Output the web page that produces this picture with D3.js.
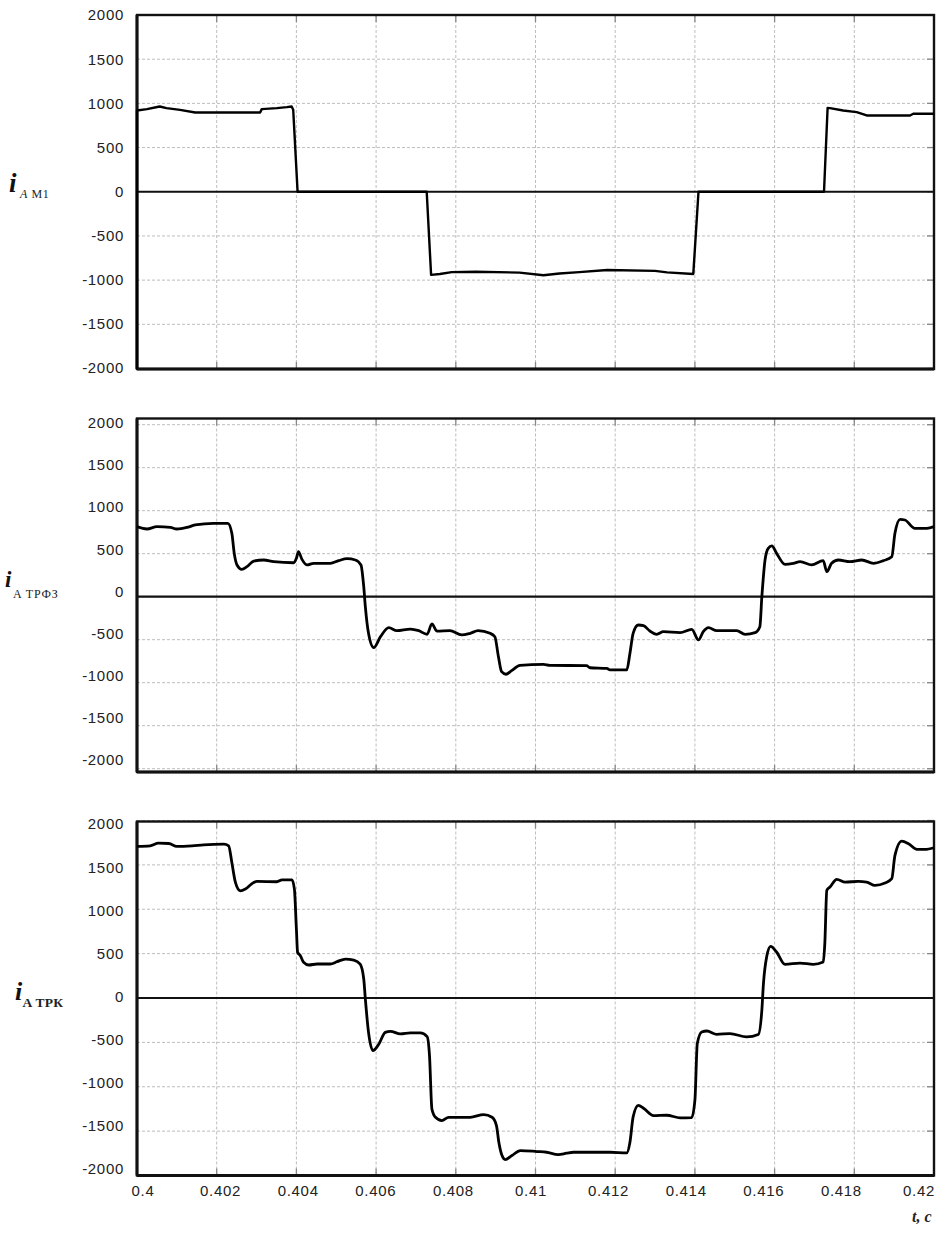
<!DOCTYPE html>
<html><head><meta charset="utf-8">
<script src="https://cdn.jsdelivr.net/npm/d3@7/dist/d3.min.js"></script>
<style>body{margin:0;background:#fff}svg{display:block}</style>
</head><body>
<svg id="c" width="936" height="1234"></svg>
<script>
// ---- data ----
const xTicks = [0.4,0.402,0.404,0.406,0.408,0.41,0.412,0.414,0.416,0.418,0.42];
const xTickLabels = ["0.4","0.402","0.404","0.406","0.408","0.41","0.412","0.414","0.416","0.418","0.42"];
const yTicks = [2000,1500,1000,500,0,-500,-1000,-1500,-2000];
const yTickLabels = ["2000","1500","1000","500","0","-500","-1000","-1500","-2000"];

// i_A M1
const m1T = [0.4,0.4,0.40025,0.40057,0.40074,0.40108,0.40146,0.40309,0.40313,0.40351,0.40376,0.40388,0.40392,0.40403,0.40727,0.40738,0.40760,0.40790,0.40850,0.40960,0.41020,0.41060,0.41110,0.41180,0.41300,0.41330,0.41396,0.41409,0.41724,0.41733,0.41739,0.41772,0.41806,0.41831,0.41940,0.41948,0.42];
const m1V = [-2000,920,935,965,946,927,897,897,935,946,958,965,927,0,0,-940,-930,-910,-905,-915,-945,-925,-910,-885,-895,-912,-930,0,0,947,946,920,901,863,863,882,882];

// i_A ТРФЗ
const trfT = [0.40000,0.40025,0.40050,0.40084,0.40100,0.40125,0.40146,0.40192,0.40228,0.40238,0.40244,0.40251,0.40263,0.40276,0.40293,0.40318,0.40343,0.40393,0.40400,0.40405,0.40414,0.40427,0.40443,0.40485,0.40506,0.40527,0.40548,0.40562,0.40569,0.40573,0.40581,0.40594,0.40611,0.40632,0.40652,0.40686,0.40707,0.40728,0.40740,0.40753,0.40785,0.40815,0.40836,0.40856,0.40886,0.40898,0.40907,0.40915,0.40926,0.40940,0.40961,0.41020,0.41036,0.41128,0.41137,0.41179,0.41187,0.41229,0.41237,0.41245,0.41258,0.41271,0.41287,0.41304,0.41321,0.41363,0.41392,0.41409,0.41421,0.41434,0.41455,0.41505,0.41526,0.41551,0.41563,0.41568,0.41576,0.41584,0.41593,0.41605,0.41626,0.41647,0.41664,0.41693,0.41722,0.41731,0.41743,0.41760,0.41789,0.41819,0.41848,0.41873,0.41894,0.41902,0.41915,0.41927,0.41952,0.41982,0.42000];
const trfV = [814,787,814,805,787,805,834,853,853,737,504,369,318,349,415,427,407,395,446,523,434,369,388,388,419,442,427,369,116,-116,-426,-593,-465,-360,-395,-376,-395,-437,-317,-400,-395,-445,-426,-395,-426,-465,-698,-872,-902,-860,-798,-786,-798,-802,-826,-833,-852,-852,-658,-426,-329,-337,-399,-437,-407,-418,-379,-503,-407,-360,-395,-395,-437,-418,-349,0,427,563,590,504,376,388,407,369,419,291,388,427,407,427,388,419,465,737,900,892,795,795,814];

// i_A ТРК
const trkT = [0.40000,0.40033,0.40054,0.40080,0.40100,0.40138,0.40167,0.40218,0.40230,0.40238,0.40247,0.40259,0.40272,0.40293,0.40301,0.40351,0.40364,0.40389,0.40395,0.40400,0.40403,0.40410,0.40418,0.40431,0.40452,0.40485,0.40502,0.40523,0.40544,0.40560,0.40569,0.40573,0.40581,0.40592,0.40607,0.40623,0.40636,0.40661,0.40686,0.40711,0.40728,0.40734,0.40740,0.40749,0.40765,0.40782,0.40836,0.40870,0.40891,0.40902,0.40908,0.40916,0.40924,0.40941,0.40962,0.41004,0.41028,0.41057,0.41078,0.41095,0.41187,0.41229,0.41237,0.41245,0.41258,0.41271,0.41296,0.41329,0.41363,0.41392,0.41400,0.41406,0.41417,0.41430,0.41455,0.41488,0.41530,0.41559,0.41568,0.41572,0.41580,0.41590,0.41605,0.41626,0.41664,0.41697,0.41722,0.41726,0.41731,0.41739,0.41756,0.41777,0.41810,0.41831,0.41852,0.41877,0.41894,0.41902,0.41919,0.41936,0.41957,0.41977,0.42000];
const trkV = [1708,1715,1745,1741,1708,1715,1726,1734,1715,1527,1302,1208,1227,1302,1313,1310,1332,1332,1227,777,514,477,402,372,383,383,409,439,428,383,214,-11,-387,-593,-518,-387,-375,-405,-394,-394,-435,-649,-1250,-1344,-1381,-1344,-1344,-1314,-1344,-1437,-1625,-1775,-1820,-1775,-1719,-1730,-1738,-1764,-1749,-1738,-1738,-1745,-1625,-1340,-1210,-1242,-1325,-1321,-1350,-1347,-1152,-513,-383,-372,-409,-401,-439,-412,-138,162,462,582,518,379,394,379,405,612,1213,1250,1337,1306,1314,1306,1269,1295,1344,1607,1768,1739,1674,1674,1693];

// ---- layout ----
const svg = d3.select("#c");
const X0 = 137, X1 = 934;
const x = d3.scaleLinear().domain([0.4,0.42]).range([X0,X1]);
const xLab = d3.scaleLinear().domain([0.4,0.42]).range([143,919]);

const panels = [
  {t:m1T, v:m1V, range:[368.5,15], lab:[368,15], box:[15,369], curve:d3.curveLinear, lw:2.4,
   sub:[{s:"A",it:true},{s:" M1",it:false}], iX:9, iY:192, iSize:27, subX:20, subY:198, subSize:12, subLS:0.6, subW:"normal"},
  {t:trfT, v:trfV, range:[768.7,424.7], lab:[760,422.7], box:[418.5,772], curve:d3.curveMonotoneX, lw:2.8,
   sub:[{s:"A ТРФЗ",it:false}], iX:5, iY:587, iSize:23, subX:13, subY:597.5, subSize:12, subLS:0.9, subW:"normal"},
  {t:trkT, v:trkV, range:[1175.5,820.5], lab:[1169,824], box:[821.5,1175.5], curve:d3.curveMonotoneX, lw:2.8,
   sub:[{s:"A ТРК",it:false}], iX:15, iY:1000, iSize:26, subX:22.5, subY:1006.5, subSize:13.5, subLS:0.3, subW:"bold"}
];

panels.forEach(p => {
  const y = d3.scaleLinear().domain([-2000,2000]).range(p.range);
  const yl = d3.scaleLinear().domain([-2000,2000]).range(p.lab);
  const g = svg.append("g");
  const [bt, bb] = p.box;

  // grid
  g.selectAll(".gx").data(xTicks).join("line")
    .attr("x1", d=>x(d)).attr("x2", d=>x(d)).attr("y1", bt).attr("y2", bb)
    .attr("stroke","#bdbdbd").attr("stroke-width",1).attr("stroke-dasharray","3,2");
  g.selectAll(".gy").data(yTicks).join("line")
    .attr("x1", X0).attr("x2", X1).attr("y1", d=>y(d)).attr("y2", d=>y(d))
    .attr("stroke","#bdbdbd").attr("stroke-width",1).attr("stroke-dasharray","3,2");

  // inner tick marks
  g.selectAll(".tt").data(xTicks).join("line")
    .attr("x1", d=>x(d)).attr("x2", d=>x(d)).attr("y1", bt).attr("y2", bt+7)
    .attr("stroke","#888").attr("stroke-width",1.3);
  g.selectAll(".tb").data(xTicks).join("line")
    .attr("x1", d=>x(d)).attr("x2", d=>x(d)).attr("y1", bb-7).attr("y2", bb)
    .attr("stroke","#888").attr("stroke-width",1.3);
  g.selectAll(".tr").data(yTicks).join("line")
    .attr("x1", X1-7).attr("x2", X1).attr("y1", d=>y(d)).attr("y2", d=>y(d))
    .attr("stroke","#888").attr("stroke-width",1.3);

  // zero line
  g.append("line").attr("x1",X0).attr("x2",X1).attr("y1",y(0)).attr("y2",y(0))
    .attr("stroke","#111").attr("stroke-width",2.2);

  // border
  g.append("rect").attr("x",X0).attr("y",bt).attr("width",X1-X0).attr("height",bb-bt)
    .attr("fill","none").attr("stroke","#111").attr("stroke-width",2.4);
  g.append("line").attr("x1",X0).attr("x2",X0).attr("y1",bt).attr("y2",bb)
    .attr("stroke","#111").attr("stroke-width",3);
  g.append("line").attr("x1",X0).attr("x2",X1).attr("y1",bb).attr("y2",bb)
    .attr("stroke","#111").attr("stroke-width",3);

  // trace
  const pts = p.t.map((t,i)=>[t,p.v[i]]);
  const line = d3.line().x(d=>x(d[0])).y(d=>y(d[1])).curve(p.curve);
  g.append("path").datum(pts).attr("d",line).attr("fill","none")
    .attr("stroke","#000").attr("stroke-width",p.lw).attr("stroke-linejoin","round");

  // y labels
  g.selectAll(".yl").data(yTicks).join("text")
    .attr("x",124).attr("y",d=>yl(d)).attr("dy","0.36em")
    .attr("text-anchor","end").attr("font-family","'Liberation Sans', Arial, sans-serif")
    .attr("font-size",15).attr("letter-spacing",0.7).attr("fill","#222")
    .text((d,i)=>yTickLabels[i]);

  // side label
  g.append("text").attr("x",p.iX).attr("y",p.iY)
    .attr("font-family","'Liberation Serif', 'Times New Roman', serif")
    .attr("font-style","italic").attr("font-weight","bold").attr("font-size",p.iSize).attr("fill","#111")
    .text("i");
  const st = g.append("text").attr("x",p.subX).attr("y",p.subY)
    .attr("font-family","'Liberation Serif', 'Times New Roman', serif")
    .attr("font-size",p.subSize).attr("letter-spacing",p.subLS).attr("font-weight",p.subW).attr("fill","#222")
    .attr("xml:space","preserve");
  p.sub.forEach(s => st.append("tspan").attr("font-style", s.it?"italic":"normal").text(s.s));
});

// x labels
svg.selectAll(".xl").data(xTicks).join("text")
  .attr("x",d=>xLab(d)).attr("y",1196)
  .attr("text-anchor","middle").attr("font-family","'Liberation Sans', Arial, sans-serif")
  .attr("font-size",15).attr("letter-spacing",0.7).attr("fill","#222")
  .text((d,i)=>xTickLabels[i]);

// axis title
svg.append("text").attr("x",912).attr("y",1222)
  .attr("font-family","'Liberation Serif', 'Times New Roman', serif")
  .attr("font-style","italic").attr("font-weight","bold").attr("font-size",16).attr("fill","#222")
  .text("t, с");
</script>
</body></html>
